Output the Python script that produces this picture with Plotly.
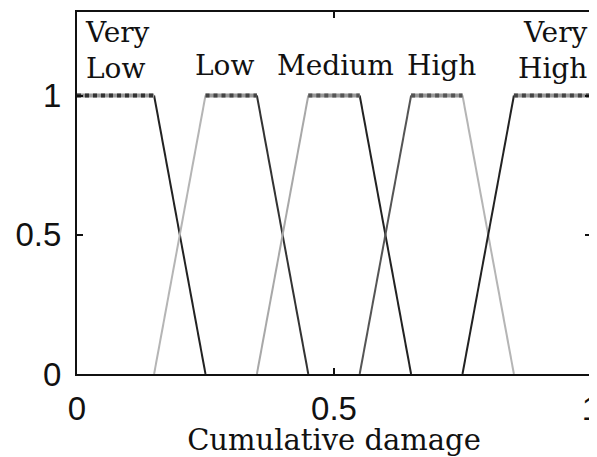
import plotly.graph_objects as go

# Trapezoidal membership functions: (a, b, c, d)
mf_names = ["Very<br>Low", "Low", "Medium", "High", "Very<br>High"]
mf_a = [0.00, 0.15, 0.35, 0.55, 0.75]
mf_b = [0.00, 0.25, 0.45, 0.65, 0.85]
mf_c = [0.15, 0.35, 0.55, 0.75, 1.00]
mf_d = [0.25, 0.45, 0.65, 0.85, 1.00]
x_ticks = [0, 0.5, 1]
y_ticks = [0, 0.5, 1]

# styles
rise_colors = ["#222222", "#b5b5b5", "#a8a8a8", "#555555", "#222222"]
fall_colors = ["#222222", "#333333", "#222222", "#b5b5b5", "#222222"]
plateau_colors = ["#333333", "#444444", "#555555", "#555555", "#444444"]
label_x = [0.078, 0.286, 0.502, 0.71, 0.926]
label_y = [1.16, 1.108, 1.108, 1.108, 1.16]

SERIF = "DejaVu Serif"

fig = go.Figure()
for i in range(len(mf_names)):
    a, b, c, d = mf_a[i], mf_b[i], mf_c[i], mf_d[i]
    if b > a:
        fig.add_trace(go.Scatter(x=[a, b], y=[0, 1], mode="lines",
                                 line=dict(color=rise_colors[i], width=2),
                                 showlegend=False, hoverinfo="skip"))
    if d > c:
        fig.add_trace(go.Scatter(x=[c, d], y=[1, 0], mode="lines",
                                 line=dict(color=fall_colors[i], width=2),
                                 showlegend=False, hoverinfo="skip"))
    fig.add_trace(go.Scatter(x=[b, c], y=[1, 1], mode="lines",
                             line=dict(color="#9a9a9a", width=4),
                             showlegend=False, hoverinfo="skip"))
    fig.add_trace(go.Scatter(x=[b, c], y=[1, 1], mode="lines",
                             line=dict(color=plateau_colors[i], width=4, dash="dot"),
                             showlegend=False, hoverinfo="skip"))
    fig.add_annotation(x=label_x[i], y=label_y[i], text=mf_names[i],
                       showarrow=False, xanchor="center", yanchor="middle",
                       font=dict(family=SERIF, size=28, color="#111111"),
                       align="left" if i == 0 else ("right" if i == 4 else "center"))

axis_common = dict(showline=True, linecolor="#111111", linewidth=2, mirror="ticks",
                   ticks="inside", ticklen=6, tickwidth=2, tickcolor="#111111",
                   showgrid=False, zeroline=False, automargin=False,
                   ticklabeloverflow="allow",
                   tickfont=dict(family="Liberation Sans", size=33, color="#111111"))

fig.update_xaxes(range=[0, 1], tickvals=x_ticks, ticktext=["0", "0.5", "1"],
                 ticklabelstandoff=4,
                 title=dict(text="Cumulative damage", standoff=0,
                            font=dict(family=SERIF, size=29, color="#111111")),
                 **axis_common)
fig.update_yaxes(range=[0, 1.3], tickvals=y_ticks, ticktext=["0", "0.5", "1"],
                 ticklabelstandoff=7,
                 **axis_common)

# page body has an 8px margin, so the figure is slightly smaller than the window
fig.update_layout(width=589, height=449, plot_bgcolor="white", paper_bgcolor="white",
                  margin=dict(l=69, r=6, t=4, b=83))

fig.write_html("out.html")
